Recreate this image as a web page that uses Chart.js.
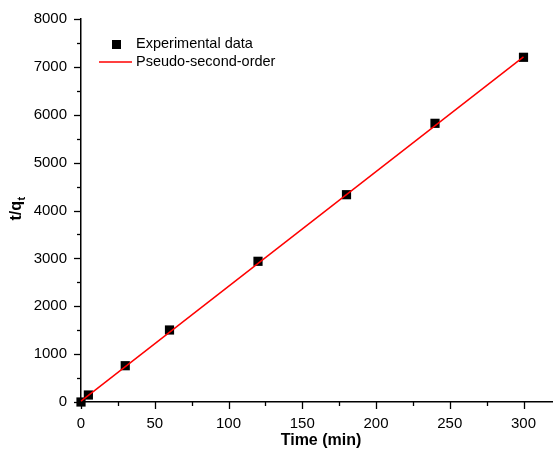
<!DOCTYPE html>
<html>
<head>
<meta charset="utf-8">
<script src="https://cdn.jsdelivr.net/npm/chart.js@4"></script>
<style>
html, body { margin: 0; padding: 0; background: #fff; }
</style>
</head>
<body>
<canvas id="myChart" width="553" height="450"></canvas>
<script>
// experimental points
let timeValues = [0, 5, 30, 60, 120, 180, 240, 300];
let tqValues = [0, 146, 758, 1504, 2939, 4330, 5821, 7200];

// fitted line (pseudo-second-order)
let fitTime = [0, 300];
let fitValues = [20, 7210];

let xTicks = [0, 50, 100, 150, 200, 250, 300];
let yTicks = [0, 1000, 2000, 3000, 4000, 5000, 6000, 7000, 8000];

let seriesNames = ["Experimental data", "Pseudo-second-order"];

const FONT = "'Liberation Sans', Arial, sans-serif";

// ticks, axis titles and legend drawn by hand
const extras = {
  id: "extras",
  afterDraw(chart) {
    const ctx = chart.ctx;
    const xs = chart.scales.x;
    const ys = chart.scales.y;
    const area = chart.chartArea;
    ctx.save();
    ctx.strokeStyle = "#000";
    ctx.lineWidth = 1.3;

    // x ticks
    for (let v = 0; v <= 320; v += 25) {
      let px = Math.round(xs.getPixelForValue(v)) + 0.5;
      let len = (v % 50 === 0) ? 7 : 4;
      ctx.beginPath();
      ctx.moveTo(px, area.bottom);
      ctx.lineTo(px, area.bottom + len);
      ctx.stroke();
    }
    // y ticks
    for (let v = 0; v <= 8000; v += 500) {
      let py = Math.round(ys.getPixelForValue(v)) + 0.5;
      let len = (v % 1000 === 0) ? 7 : 4;
      ctx.beginPath();
      ctx.moveTo(area.left, py);
      ctx.lineTo(area.left - len, py);
      ctx.stroke();
    }

    // x title
    ctx.fillStyle = "#000";
    ctx.font = "bold 16px " + FONT;
    ctx.textAlign = "center";
    ctx.textBaseline = "middle";
    ctx.fillText("Time (min)", 321, 441);

    // y title t/q_t
    ctx.save();
    ctx.translate(16, 209);
    ctx.rotate(-Math.PI / 2);
    ctx.textAlign = "left";
    ctx.textBaseline = "alphabetic";
    ctx.font = "bold 16px " + FONT;
    let w1 = ctx.measureText("t/q").width;
    ctx.font = "bold 11px " + FONT;
    let w2 = ctx.measureText("t").width;
    let start = -(w1 + w2) / 2;
    ctx.font = "bold 16px " + FONT;
    ctx.fillText("t/q", start, 5);
    ctx.font = "bold 11px " + FONT;
    ctx.fillText("t", start + w1 + 0.5, 9);
    ctx.restore();

    // legend
    ctx.fillStyle = "#000";
    ctx.fillRect(112, 40, 9, 9);
    ctx.strokeStyle = "#ff0000";
    ctx.lineWidth = 1.5;
    ctx.beginPath();
    ctx.moveTo(99, 62);
    ctx.lineTo(132, 62);
    ctx.stroke();
    ctx.font = "14.5px " + FONT;
    ctx.textAlign = "left";
    ctx.textBaseline = "middle";
    ctx.fillText(seriesNames[0], 136, 44);
    ctx.fillText(seriesNames[1], 136, 62);
    ctx.restore();
  }
};

let chart = new Chart("myChart", {
  type: "scatter",
  data: {
    datasets: [
      {
        label: seriesNames[1],
        type: "line",
        data: fitTime.map((t, i) => ({ x: t, y: fitValues[i] })),
        borderColor: "#ff0000",
        borderWidth: 1.5,
        pointRadius: 0,
        fill: false,
        clip: false,
        order: 0
      },
      {
        label: seriesNames[0],
        data: timeValues.map((t, i) => ({ x: t, y: tqValues[i] })),
        pointStyle: "rect",
        pointRadius: 6.5,
        backgroundColor: "#000",
        borderColor: "#000",
        borderWidth: 0,
        clip: false,
        order: 1
      }
    ]
  },
  options: {
    responsive: false,
    animation: false,
    layout: { autoPadding: false, padding: { top: 19, right: 0, left: 0, bottom: 0 } },
    plugins: {
      legend: { display: false },
      tooltip: { enabled: false }
    },
    scales: {
      x: {
        type: "linear",
        min: 0,
        max: 320,
        afterBuildTicks: (s) => { s.ticks = xTicks.map(v => ({ value: v })); },
        afterFit: (s) => { s.height = 48; },
        grid: { display: false, drawTicks: true, tickLength: 7 },
        border: { display: true, color: "#000", width: 1.5 },
        ticks: { color: "#000", font: { family: FONT, size: 15 }, padding: 6, maxRotation: 0,
          callback: (v) => String(v) }
      },
      y: {
        type: "linear",
        min: 0,
        max: 8000,
        afterBuildTicks: (s) => { s.ticks = yTicks.map(v => ({ value: v })); },
        afterFit: (s) => { s.width = 81; },
        grid: { display: false, drawTicks: true, tickLength: 7 },
        border: { display: true, color: "#000", width: 1.5 },
        ticks: { color: "#000", font: { family: FONT, size: 15 }, padding: 7,
          callback: (v) => String(v) }
      }
    }
  },
  plugins: [extras]
});
</script>
</body>
</html>
